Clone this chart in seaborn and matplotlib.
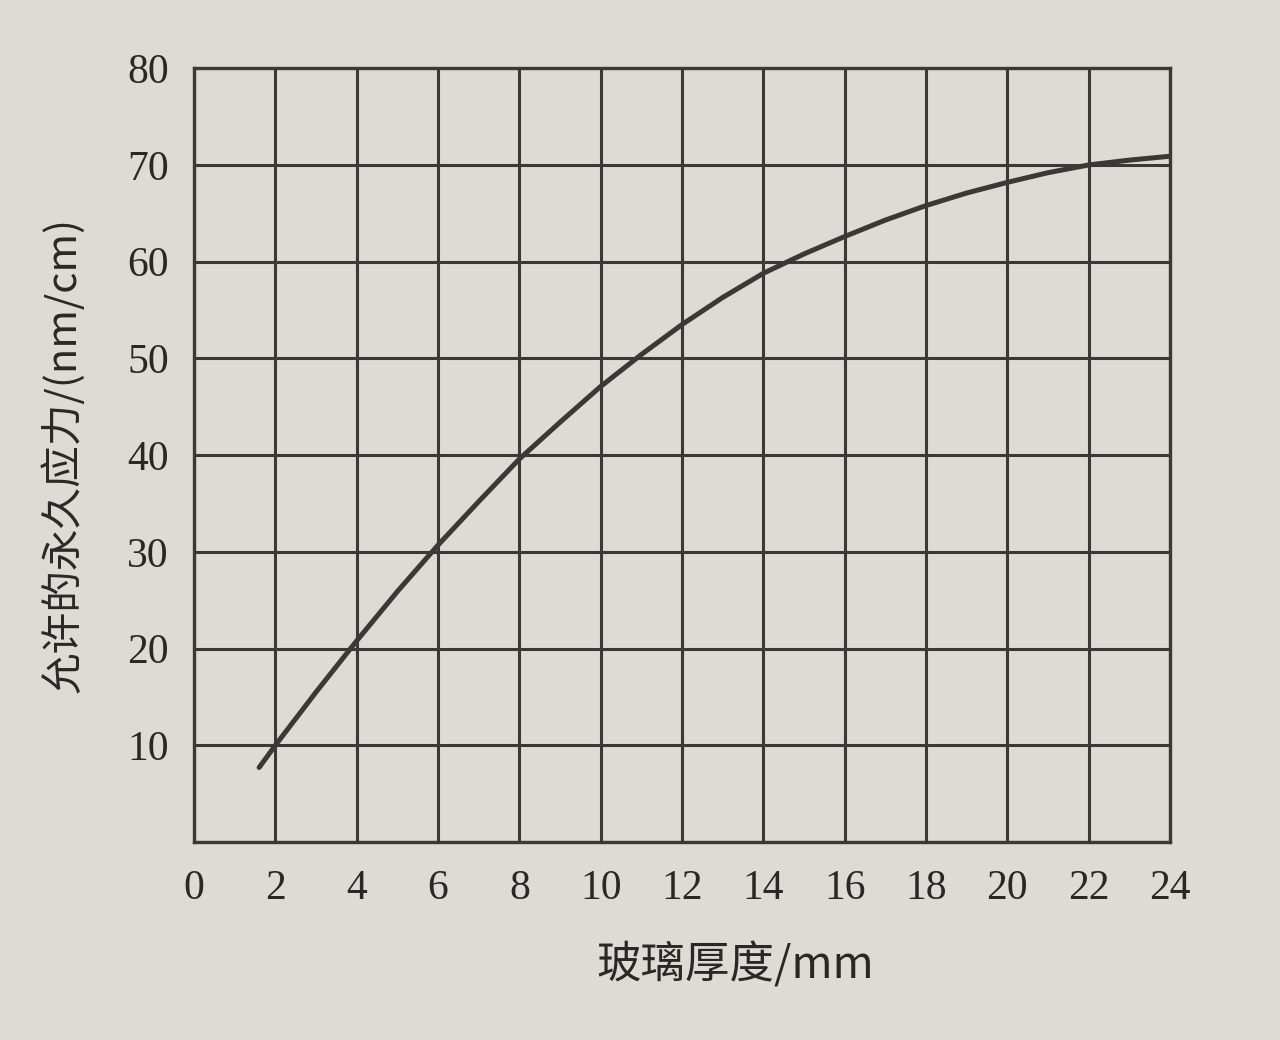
import matplotlib
matplotlib.use("Agg")
import matplotlib.pyplot as plt
import seaborn as sns
import pandas as pd

thickness = [1.6, 2, 3, 4, 5, 6, 7, 8, 9, 10, 11, 12, 13, 14, 15, 16, 17, 18, 19, 20, 21, 22, 23, 24]
stress = [7.7, 10, 15.5, 20.8, 25.9, 30.7, 35.2, 39.6, 43.4, 47.1, 50.4, 53.5, 56.3, 58.8, 60.8,
          62.6, 64.3, 65.8, 67.1, 68.2, 69.2, 70.0, 70.5, 70.9]
x_ticks = list(range(0, 25, 2))
y_ticks = list(range(10, 81, 10))
x_label = "玻璃厚度/mm"
y_label = "允许的永久应力/(nm/cm)"

df = pd.DataFrame({"thickness": thickness, "stress": stress})

sns.set_theme(style="white")
plt.rcParams['font.family'] = ['Liberation Serif', 'Noto Sans CJK SC', 'DejaVu Sans']

paper = "#dedbd6"
ink = "#3b3836"
text_ink = "#2a2725"

fig = plt.figure(figsize=(12.8, 10.4), dpi=100, facecolor=paper)
ax = fig.add_axes([0.1516, 0.1904, 0.7625, 0.744])
ax.set_facecolor(paper)

sns.lineplot(data=df, x="thickness", y="stress", ax=ax, color=ink, linewidth=3.6, sort=True,
             solid_joinstyle='round', solid_capstyle='round')

ax.set_xlim(0, 24)
ax.set_ylim(0, 80)
ax.set_xticks(x_ticks)
ax.set_yticks(list(range(0, 81, 10)))
ax.set_yticklabels([""] + [str(v) for v in y_ticks])
ax.set_xticklabels([str(v) for v in x_ticks])
ax.grid(True, color=ink, linewidth=2.2)
ax.set_axisbelow(True)
for s in ax.spines.values():
    s.set_color(ink)
    s.set_linewidth(2.4)
ax.tick_params(axis='both', length=0, labelsize=30, colors=text_ink)
ax.tick_params(axis='x', pad=20)
ax.tick_params(axis='y', pad=18)

ax.set_xlabel(x_label, fontsize=32, family=['Noto Sans CJK SC'], color=text_ink)
ax.set_ylabel(y_label, fontsize=30, family=['Noto Sans CJK SC'], color=text_ink)
ax.xaxis.set_label_coords(0.554, -0.159)
ax.yaxis.set_label_coords(-0.135, 0.5)
ax.xaxis.label.set_va('center')
ax.yaxis.label.set_va('center')

fig.savefig("out.png", dpi=100, facecolor=paper)
